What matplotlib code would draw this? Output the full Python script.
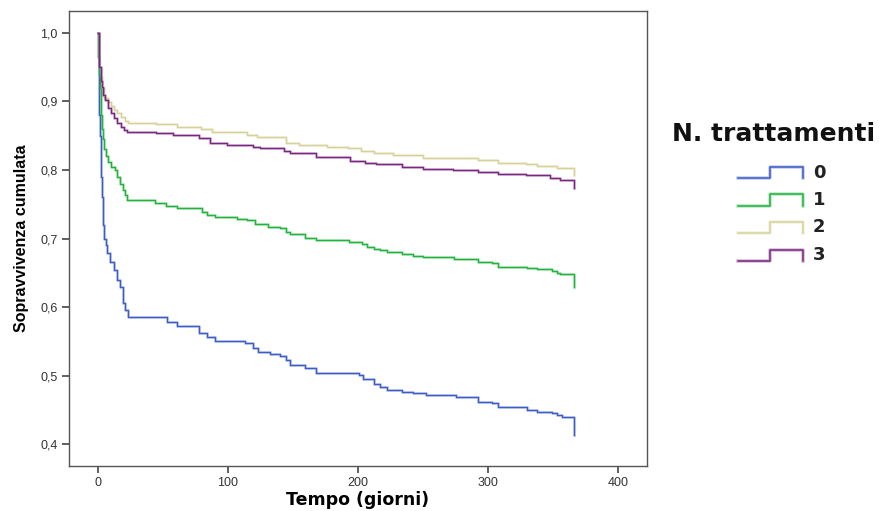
import matplotlib
matplotlib.use("Agg")
import matplotlib.pyplot as plt
from matplotlib.lines import Line2D
from matplotlib.ticker import FuncFormatter

plt.rcParams['font.family'] = ['Liberation Sans', 'DejaVu Sans']

# ---- data ----
groups = ["0", "1", "2", "3"]
colors = ["#3d5cc4", "#22b33e", "#d6d29a", "#7a2580"]

t0 = [0, 0.5, 1, 1.5, 2, 2.5, 3, 3.5, 4, 5, 6, 7, 9, 12.3, 15, 17, 19, 21, 23,
      53, 61, 78, 84, 90, 113, 119, 123, 132, 140, 145, 148, 159, 168, 201, 204,
      212, 217, 222, 234, 242, 252, 275, 292, 303, 308, 330, 338, 349, 353, 357, 366]
s0 = [1.0, 0.93, 0.88, 0.85, 0.82, 0.79, 0.76, 0.74, 0.72, 0.70, 0.69, 0.679,
      0.665, 0.654, 0.64, 0.629, 0.606, 0.595, 0.585,
      0.578, 0.572, 0.562, 0.556, 0.551, 0.547, 0.540, 0.534, 0.532, 0.529, 0.523,
      0.516, 0.511, 0.504, 0.501, 0.495, 0.488, 0.483, 0.479, 0.476, 0.474, 0.471,
      0.468, 0.461, 0.460, 0.454, 0.450, 0.447, 0.445, 0.442, 0.439, 0.413]

t1 = [0, 0.3, 1, 1.5, 2, 2.5, 3, 4, 5, 6, 7.7, 10, 13, 15, 17, 19, 21, 22.3,
      44, 52, 61, 80, 84, 90, 107, 115, 121, 131, 140, 145, 148, 159, 168, 193,
      203, 207, 212, 217, 222, 234, 242, 250, 274, 292, 303, 308, 330, 338, 349,
      353, 355, 366]
s1 = [1.0, 0.965, 0.94, 0.92, 0.90, 0.88, 0.86, 0.845, 0.83, 0.82, 0.812, 0.805,
      0.800, 0.790, 0.780, 0.771, 0.763, 0.756,
      0.752, 0.747, 0.744, 0.739, 0.734, 0.731, 0.728, 0.727, 0.721, 0.717, 0.715,
      0.709, 0.706, 0.701, 0.698, 0.695, 0.692, 0.688, 0.685, 0.683, 0.680, 0.677,
      0.675, 0.673, 0.670, 0.666, 0.664, 0.659, 0.657, 0.655, 0.653, 0.650, 0.648,
      0.629]

t2 = [0, 0.5, 1, 2, 3, 5, 7.7, 10, 12, 15, 18, 21, 23, 45, 61, 79, 88, 115, 122,
      145, 155, 176, 192, 202, 212, 227, 250, 292, 308, 329, 338, 353, 366]
s2 = [1.0, 0.97, 0.95, 0.935, 0.92, 0.905, 0.899, 0.893, 0.888, 0.883, 0.877,
      0.872, 0.869, 0.867, 0.863, 0.860, 0.855, 0.851, 0.848, 0.840, 0.836, 0.834,
      0.832, 0.828, 0.825, 0.822, 0.818, 0.815, 0.810, 0.809, 0.806, 0.803, 0.793]

t3 = [0, 0.5, 1, 2, 3, 4, 5.4, 7.7, 10, 12, 15, 18, 20, 22, 45, 58, 78, 86, 99,
      119, 125, 143, 148, 168, 194, 205, 214, 234, 250, 273, 292, 308, 329, 348,
      355, 366]
s3 = [1.0, 0.97, 0.95, 0.93, 0.921, 0.91, 0.902, 0.890, 0.883, 0.876, 0.869,
      0.862, 0.858, 0.855, 0.854, 0.851, 0.847, 0.840, 0.837, 0.834, 0.832, 0.828,
      0.825, 0.819, 0.813, 0.810, 0.809, 0.804, 0.801, 0.800, 0.797, 0.794, 0.792,
      0.788, 0.785, 0.774]

series = [(t0, s0), (t1, s1), (t2, s2), (t3, s3)]

x_ticks = [0, 100, 200, 300, 400]
y_ticks = [0.4, 0.5, 0.6, 0.7, 0.8, 0.9, 1.0]

# ---- figure ----
W, H = 895, 511
fig = plt.figure(figsize=(W / 100, H / 100), dpi=100)
ax = fig.add_axes([69 / W, 1 - 466 / H, (647 - 69) / W, (466 - 11) / H])

for (t, s), c in zip(series, colors):
    ax.step(t, s, where='post', color=c, lw=2.2, alpha=0.25)
    ax.step(t, s, where='post', color=c, lw=1.0)

ax.set_xlim(-22.3, 422.3)
ax.set_ylim(0.368, 1.032)
ax.set_xticks(x_ticks)
ax.set_yticks(y_ticks)
ax.xaxis.set_major_formatter(FuncFormatter(lambda v, p: f"{int(v)}"))
ax.yaxis.set_major_formatter(FuncFormatter(lambda v, p: f"{v:.1f}".replace('.', ',')))
for sp in ax.spines.values():
    sp.set_color('#555555')
    sp.set_linewidth(1.0)
ax.tick_params(axis='both', length=5, width=1.2, color='#444444',
               labelsize=9, labelcolor='#333333', pad=3)

ax.set_xlabel("Tempo (giorni)", fontsize=12.5, fontweight='bold',
              family=['DejaVu Sans'], va='center')
ax.xaxis.set_label_coords(0.5, -(500 - 466) / 455)
ax.set_ylabel("Sopravvivenza cumulata", fontsize=11.5, fontweight='bold', labelpad=8)

# ---- legend (drawn in figure pixel coords) ----
def fx(px):
    return px / W

def fy(py):
    return 1 - py / H

fig.text(fx(672), fy(134), "N. trattamenti", fontsize=18, fontweight='bold',
         ha='left', va='center', color='#111111', family=['DejaVu Sans'])
lows = [178, 206, 233, 261]
highs = [167, 194, 222, 250]
for g, c, lo, hi in zip(groups, colors, lows, highs):
    xs = [fx(738), fx(770), fx(770), fx(803), fx(803)]
    ys = [fy(lo), fy(lo), fy(hi), fy(hi), fy(lo)]
    fig.add_artist(Line2D(xs, ys, color=c, lw=2.6, alpha=0.3, transform=fig.transFigure))
    fig.add_artist(Line2D(xs, ys, color=c, lw=1.1, transform=fig.transFigure))
    fig.text(fx(813), fy((lo + hi) / 2), g, fontsize=13, fontweight='bold',
             ha='left', va='center', color='#222222', family=['DejaVu Sans'])

fig.savefig("out.png", dpi=100, facecolor='white')
